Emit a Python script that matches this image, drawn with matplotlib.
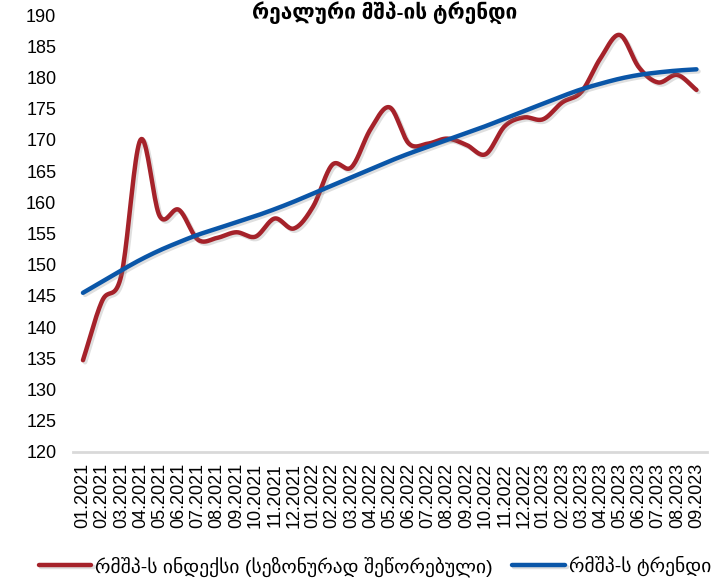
import numpy as np
import matplotlib
matplotlib.use('Agg')
import matplotlib.pyplot as plt
import matplotlib.patheffects as pe

## dados
meses = ['01.2021', '02.2021', '03.2021', '04.2021', '05.2021', '06.2021',
         '07.2021', '08.2021', '09.2021', '10.2021', '11.2021', '12.2021',
         '01.2022', '02.2022', '03.2022', '04.2022', '05.2022', '06.2022',
         '07.2022', '08.2022', '09.2022', '10.2022', '11.2022', '12.2022',
         '01.2023', '02.2023', '03.2023', '04.2023', '05.2023', '06.2023',
         '07.2023', '08.2023', '09.2023']
indice = [134.7, 144.2, 148.3, 170.0, 157.8, 158.8, 154.0, 154.3, 155.2, 154.5,
          157.4, 155.8, 159.3, 166.0, 165.6, 171.7, 175.2, 169.4, 169.4, 170.2,
          169.2, 167.7, 172.2, 173.6, 173.3, 176.0, 177.7, 183.1, 186.8, 181.6,
          179.2, 180.4, 178.0]
tendencia = [145.5, 147.3, 149.1, 150.8, 152.3, 153.6, 154.8, 155.8, 156.8, 157.8,
             158.9, 160.1, 161.4, 162.7, 164.0, 165.3, 166.6, 167.8, 168.9, 170.0,
             171.1, 172.2, 173.4, 174.6, 175.8, 177.0, 178.1, 179.0, 179.8, 180.4,
             180.8, 181.1, 181.3]

nome_indice = 'რმშპ-ს ინდექსი (სეზონურად შეწორებული)'
nome_tendencia = 'რმშპ-ს ტრენდი'
titulo = 'რეალური მშპ-ის ტრენდი'

cor_vermelha = '#A5222A'
cor_azul = '#0A56A8'


def suavizar(y, passos=20):
    ## linha suavizada tipo Excel (Catmull-Rom)
    y = np.asarray(y, dtype=float)
    x = np.arange(len(y), dtype=float)
    p = np.concatenate([[2 * y[0] - y[1]], y, [2 * y[-1] - y[-2]]])
    xs, ys = [], []
    t = np.linspace(0, 1, passos, endpoint=False)
    for i in range(len(y) - 1):
        p0, p1, p2, p3 = p[i], p[i + 1], p[i + 2], p[i + 3]
        yy = 0.5 * ((2 * p1) + (-p0 + p2) * t + (2 * p0 - 5 * p1 + 4 * p2 - p3) * t ** 2
                    + (-p0 + 3 * p1 - 3 * p2 + p3) * t ** 3)
        xs.append(x[i] + t)
        ys.append(yy)
    xs.append([x[-1]])
    ys.append([y[-1]])
    return np.concatenate(xs), np.concatenate(ys)


plt.rcParams['font.family'] = ['Liberation Sans', 'DejaVu Sans']

fig = plt.figure(figsize=(7.24, 5.78), dpi=100)
ax = fig.add_axes([73 / 724, 1 - 452 / 578, (707 - 73) / 724, (452 - 15) / 578])

sombra = [pe.SimpleLineShadow(offset=(1.5, -1.5), shadow_color='gray', alpha=0.25),
          pe.Normal()]

xi, yi = suavizar(indice)
xt, yt = suavizar(tendencia)
ax.plot(xi, yi, color=cor_vermelha, lw=3.2, solid_capstyle='round',
        path_effects=sombra, label=nome_indice)
ax.plot(xt, yt, color=cor_azul, lw=3.2, solid_capstyle='round',
        path_effects=sombra, label=nome_tendencia)

ax.set_xlim(-0.52, len(meses) - 0.45)
ax.set_ylim(120, 190)
ax.set_yticks(np.arange(120, 191, 5))
ax.set_xticks(range(len(meses)))
ax.set_xticklabels(meses, rotation=90, fontsize=13)
ax.tick_params(axis='y', labelsize=13, length=0, pad=12)
ax.tick_params(axis='x', length=0, pad=8)

for lado in ['left', 'right', 'top']:
    ax.spines[lado].set_visible(False)
ax.spines['bottom'].set_color('#d9d9d9')
ax.spines['bottom'].set_linewidth(2)

## título no topo (no original aparece cortado)
fig.text(0.531, 1 - 1 / 578, titulo, ha='center', va='top',
         fontsize=15, fontweight='bold')

fig.legend(loc='lower center', bbox_to_anchor=(0.518, -0.028), ncol=2, frameon=False,
           fontsize=14, handlelength=2.7, handletextpad=0.2, columnspacing=1.0)

fig.savefig('out.png', dpi=100)
